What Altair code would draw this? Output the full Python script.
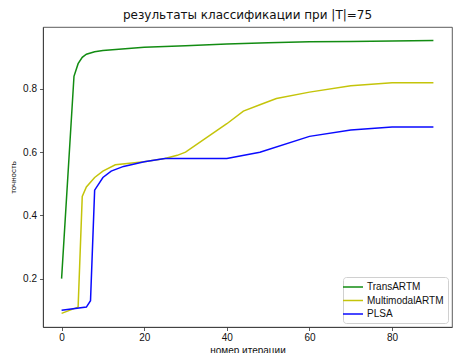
import altair as alt
import pandas as pd

trans_x = [0, 3, 4, 5, 6, 8, 10, 20, 30, 40, 50, 60, 70, 80, 90]
trans_y = [0.20, 0.84, 0.88, 0.90, 0.91, 0.918, 0.922, 0.932, 0.937, 0.942, 0.946, 0.949, 0.950, 0.952, 0.953]

multi_x = [0, 4, 5, 6, 8, 10, 13, 20, 25, 28, 30, 40, 44, 48, 52, 60, 70, 80, 90]
multi_y = [0.09, 0.11, 0.46, 0.49, 0.52, 0.54, 0.56, 0.57, 0.58, 0.59, 0.60, 0.69, 0.73, 0.75, 0.77, 0.79, 0.81, 0.82, 0.82]

plsa_x = [0, 6, 7, 8, 10, 12, 15, 20, 25, 40, 48, 60, 70, 80, 90]
plsa_y = [0.10, 0.11, 0.13, 0.48, 0.52, 0.54, 0.555, 0.57, 0.58, 0.58, 0.60, 0.65, 0.67, 0.68, 0.68]

series = ["TransARTM", "MultimodalARTM", "PLSA"]
colors = ["#128c12", "#c4c40a", "#0a0aff"]

rows = []
for name, xs, ys in zip(series, [trans_x, multi_x, plsa_x], [trans_y, multi_y, plsa_y]):
    for i, (a, b) in enumerate(zip(xs, ys)):
        rows.append({"series": name, "x": a, "y": b, "order": i})
df = pd.DataFrame(rows)

font = "Liberation Sans"
title_font = "DejaVu Sans"

chart = alt.Chart(df).mark_line(strokeWidth=1.5, clip=True).encode(
    x=alt.X("x:Q", scale=alt.Scale(domain=[-4.5, 94.5], nice=False, zero=False),
            axis=alt.Axis(values=[0, 20, 40, 60, 80], title="номер итерации", grid=False,
                          labelFontSize=10, titleFontSize=10, tickSize=3.5, labelPadding=2,
                          titlePadding=3, format="d")),
    y=alt.Y("y:Q", scale=alt.Scale(domain=[0.047, 0.996], nice=False, zero=False),
            axis=alt.Axis(values=[0.2, 0.4, 0.6, 0.8], title="точность", grid=False,
                          labelFontSize=10, titleFontSize=8, tickSize=3.5, labelPadding=3,
                          titlePadding=5, format=".1f")),
    color=alt.Color("series:N", scale=alt.Scale(domain=series, range=colors),
                    legend=alt.Legend(title=None, orient="bottom-right", offset=4,
                                      symbolType="M-2,0H2", symbolSize=100, symbolStrokeWidth=1.5,
                                      labelFontSize=10, labelFont=font, labelColor="#111",
                                      labelOffset=8, padding=4, strokeColor="#d0d0d0",
                                      fillColor="white", cornerRadius=3, rowPadding=2.5)),
    order="order:Q",
).properties(
    width=409, height=300,
    title=alt.TitleParams("результаты классификации при |T|=75", fontSize=12, font=title_font,
                          fontWeight="normal", color="#111", offset=5),
    autosize=alt.AutoSizeParams(type="none"),
    padding={"left": 43, "top": 27, "right": 1, "bottom": 26},
).configure_axis(
    labelFont=font, titleFont=font, labelColor="#111", titleColor="#111",
    titleFontWeight="normal", domainColor="#333", tickColor="#333", domainWidth=0.8, tickWidth=0.8,
).configure_view(stroke="#333", strokeWidth=0.8)

chart.save("out.html", embed_options={"renderer": "svg", "actions": False})
